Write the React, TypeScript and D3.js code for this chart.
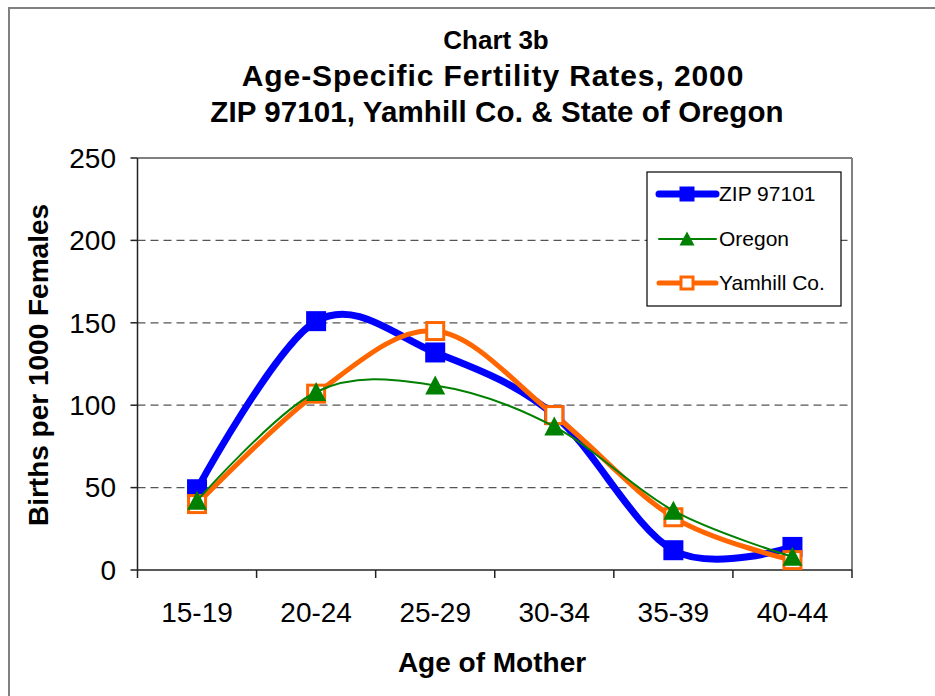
import React from 'react';
import * as d3 from 'd3';

const categories = ['15-19', '20-24', '25-29', '30-34', '35-39', '40-44'];
const zipValues = [49, 151, 132, 94, 12, 14];
const oregonValues = [42, 108, 112, 87, 36, 8];
const yamhillValues = [40, 107, 145, 94, 32, 6];
const yTicks = [0, 50, 100, 150, 200, 250];

const titleLines = ['Chart 3b', 'Age-Specific Fertility Rates, 2000', 'ZIP 97101, Yamhill Co. & State of Oregon'];

const FONT = '"Liberation Sans", Arial, sans-serif';

type Series = { name: string; values: number[]; color: string; width: number; marker: 'square' | 'triangle' | 'hollow' };

// draw order follows the source (Yamhill before Oregon), legend order differs
const series: Series[] = [
  { name: 'ZIP 97101', values: zipValues, color: '#0000ff', width: 7, marker: 'square' },
  { name: 'Yamhill Co.', values: yamhillValues, color: '#ff6600', width: 5, marker: 'hollow' },
  { name: 'Oregon', values: oregonValues, color: '#008000', width: 2, marker: 'triangle' },
];
const legendOrder = ['ZIP 97101', 'Oregon', 'Yamhill Co.'];

const Marker = ({ kind, x, y, color, size }: { kind: string; x: number; y: number; color: string; size: number }) => {
  const h = size / 2;
  if (kind === 'square') {
    return <rect x={x - h} y={y - h} width={size} height={size} fill={color} />;
  }
  if (kind === 'hollow') {
    return <rect x={x - h + 1.5} y={y - h + 1.5} width={size - 3} height={size - 3} fill="#fff" stroke={color} strokeWidth={3} />;
  }
  return <path d={`M${x},${y - h} L${x + h},${y + h - 1} L${x - h},${y + h - 1} Z`} fill={color} />;
};

const App = () => {
  const width = 935;
  const height = 696;
  const plot = { left: 137.5, right: 852, top: 158, bottom: 570 };

  const x = d3.scaleBand<string>().domain(categories).range([plot.left, plot.right]).padding(0);
  const y = d3.scaleLinear().domain([0, 250]).range([plot.bottom, plot.top]);
  const cx = (c: string) => (x(c) ?? 0) + x.bandwidth() / 2;

  const line = d3
    .line<number>()
    .x((_, i) => cx(categories[i]))
    .y((d) => y(d))
    .curve(d3.curveCardinal.tension(0));

  const edges = categories.map((c) => x(c) ?? 0).concat([plot.right]);
  const legendY = [194, 239, 283];

  return (
    <svg width={width} height={height} style={{ position: 'absolute', left: 0, top: 0, background: '#fff' }}>
      <rect x={0} y={0} width={width} height={height} fill="#fff" />
      <rect x={9} y={8} width={960} height={720} fill="none" stroke="#808080" strokeWidth={2} />

      {/* titles */}
      <g fontFamily={FONT} fontWeight="bold" fill="#000" textAnchor="middle">
        <text x={496} y={49} fontSize={26}>{titleLines[0]}</text>
        <text x={493} y={86} fontSize={30} letterSpacing={0.9}>{titleLines[1]}</text>
        <text x={497} y={122} fontSize={29.5} letterSpacing={0.1}>{titleLines[2]}</text>
      </g>

      {/* gridlines */}
      {yTicks.filter((t) => t > 0 && t < 250).map((t) => (
        <line key={t} x1={plot.left} x2={plot.right} y1={y(t)} y2={y(t)} stroke="#555" strokeWidth={1.3} strokeDasharray="8,5" />
      ))}

      {/* plot frame */}
      <line x1={plot.left} x2={plot.right} y1={plot.top} y2={plot.top} stroke="#808080" strokeWidth={2} />
      <line x1={plot.right} x2={plot.right} y1={plot.top} y2={plot.bottom} stroke="#808080" strokeWidth={2} />
      <line x1={plot.left} x2={plot.left} y1={plot.top} y2={plot.bottom} stroke="#222" strokeWidth={1.5} />
      <line x1={plot.left} x2={plot.right} y1={plot.bottom} y2={plot.bottom} stroke="#222" strokeWidth={1.5} />

      {/* y axis */}
      <g fontFamily={FONT} fontSize={28} fill="#000">
        {yTicks.map((t) => (
          <g key={t}>
            <line x1={plot.left - 7} x2={plot.left} y1={y(t)} y2={y(t)} stroke="#222" strokeWidth={1.5} />
            <text x={116} y={y(t)} dy="0.35em" textAnchor="end">{t}</text>
          </g>
        ))}
      </g>

      {/* x axis */}
      {edges.map((e, i) => (
        <line key={i} x1={e} x2={e} y1={plot.bottom} y2={plot.bottom + 8} stroke="#222" strokeWidth={1.5} />
      ))}
      <g fontFamily={FONT} fontSize={28} fill="#000" textAnchor="middle">
        {categories.map((c) => (
          <text key={c} x={cx(c)} y={622}>{c}</text>
        ))}
      </g>

      {/* axis titles */}
      <text x={492} y={672} fontFamily={FONT} fontSize={28} fontWeight="bold" textAnchor="middle">Age of Mother</text>
      <text transform="translate(48,365) rotate(-90)" fontFamily={FONT} fontSize={28} fontWeight="bold" textAnchor="middle">
        Births per 1000 Females
      </text>

      {/* series */}
      {series.map((s) => (
        <g key={s.name}>
          <path d={line(s.values) ?? ''} fill="none" stroke={s.color} strokeWidth={s.width} strokeLinejoin="round" strokeLinecap="round" />
          {s.values.map((v, i) => (
            <Marker key={i} kind={s.marker} x={cx(categories[i])} y={y(v)} color={s.color} size={20} />
          ))}
        </g>
      ))}

      {/* legend */}
      <rect x={647} y={172} width={194} height={134} fill="#fff" stroke="#000" strokeWidth={1.2} />
      {legendOrder.map((name, i) => {
        const s = series.find((d) => d.name === name)!;
        const ly = legendY[i];
        return (
          <g key={name}>
            <line x1={659} x2={716} y1={ly} y2={ly} stroke={s.color} strokeWidth={s.width} strokeLinecap="round" />
            <Marker kind={s.marker} x={687} y={ly} color={s.color} size={15} />
            <text x={719} y={ly} dy="0.35em" fontFamily={FONT} fontSize={21} fill="#000">{name}</text>
          </g>
        );
      })}
    </svg>
  );
};

export default App;
